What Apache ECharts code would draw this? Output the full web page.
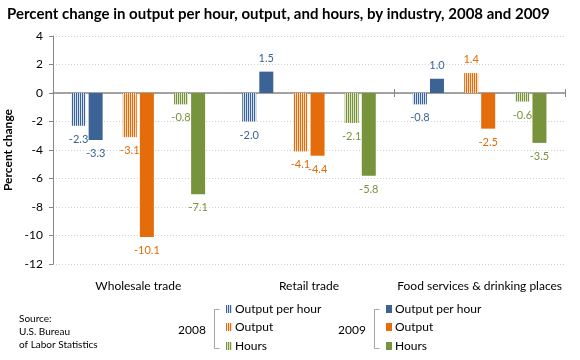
<!DOCTYPE html>
<html><head><meta charset="utf-8">
<script src="https://cdn.jsdelivr.net/npm/echarts@6/dist/echarts.min.js"></script>
<style>html,body{margin:0;padding:0;background:#fff}#c{width:580px;height:360px}</style>
</head><body><div id="c"></div>
<script>
const categories = ['Wholesale trade', 'Retail trade', 'Food services & drinking places'];
const oph2008 = [-2.3, -2.0, -0.8];
const oph2009 = [-3.3, 1.5, 1.0];
const out2008 = [-3.1, -4.1, 1.4];
const out2009 = [-10.1, -4.4, -2.5];
const hrs2008 = [-0.8, -2.1, -0.6];
const hrs2009 = [-7.1, -5.8, -3.5];
const yMin = -12, yMax = 4, yStep = 2;
const measures = ['Output per hour', 'Output', 'Hours'];

const FONT = 'Lato';
const blue = '#3b6396', orange = '#e46c0a', green = '#77933c';
const blueL = '#d3e0f0', orangeL = '#fcdcc2', greenL = '#dde7c8';

function hatch(color, light) {
  const c = document.createElement('canvas');
  c.width = 2; c.height = 2;
  const g = c.getContext('2d');
  g.fillStyle = light; g.fillRect(0, 0, 2, 2);
  g.fillStyle = color; g.fillRect(0, 0, 1, 2);
  return { image: c, repeat: 'repeat' };
}

function barSeries(name, data, fill, labelColor) {
  return {
    name: name, type: 'bar', data: data,
    barWidth: 14, barGap: '22%',
    itemStyle: { color: fill },
    label: {
      show: true, position: 'outside', distance: 8,
      color: labelColor, fontFamily: FONT, fontSize: 11,
      formatter: p => p.value.toFixed(1)
    },
    emphasis: { disabled: true }
  };
}
function gapSeries() {
  return { type: 'bar', data: categories.map(() => '-'), barWidth: 14, barGap: '22%', silent: true };
}

const series = [
  barSeries('Output per hour 2008', oph2008, hatch(blue, blueL), blue),
  barSeries('Output per hour 2009', oph2009, blue, blue),
  gapSeries(),
  barSeries('Output 2008', out2008, hatch(orange, orangeL), orange),
  barSeries('Output 2009', out2009, orange, orange),
  gapSeries(),
  barSeries('Hours 2008', hrs2008, hatch(green, greenL), green),
  barSeries('Hours 2009', hrs2009, green, green)
];

const legends = [];
const rowsY = [303, 321, 340];
['2008', '2009'].forEach((yr, k) => {
  measures.forEach((m, i) => {
    legends.push({
      data: [m + ' ' + yr], left: k === 0 ? 226 : 386, top: rowsY[i],
      orient: 'vertical', icon: 'rect', itemWidth: 6, itemHeight: 8, padding: 0,
      selectedMode: false,
      formatter: n => n.replace(/ \d{4}$/, ''),
      textStyle: { fontFamily: FONT, fontSize: 12, color: '#000', padding: [0, 0, 0, -2] }
    });
  });
});

function bracket(x) {
  return { type: 'polyline', shape: { points: [[x + 5, 309.5], [x, 309.5], [x, 348.5], [x + 5, 348.5]] },
    style: { stroke: '#a6a6a6', lineWidth: 1, fill: null }, silent: true };
}

const chart = echarts.init(document.getElementById('c'), null, { renderer: 'canvas' });
chart.setOption({
  animation: false,
  title: {
    text: 'Percent change in output per hour, output, and hours, by industry, 2008 and 2009',
    left: 7, top: 7, padding: 0,
    textStyle: { fontFamily: FONT, fontWeight: 'bold', fontSize: 15, color: '#000' }
  },
  grid: { left: 53, right: 15, top: 36, bottom: 96, containLabel: false, outerBoundsMode: 'none' },
  legend: legends,
  xAxis: [{
    type: 'category', data: categories, position: 'bottom',
    axisLine: { show: false, onZero: false },
    axisTick: { show: false },
    axisLabel: { interval: 0, margin: 16, fontFamily: FONT, fontSize: 12, color: '#000' },
    splitLine: { show: false }
  }, {
    type: 'category', data: categories, position: 'top',
    axisLine: { show: true, onZero: true, onZeroAxisIndex: 0, lineStyle: { color: '#868686', width: 1.5 } },
    axisTick: { show: true, length: 4, lineStyle: { color: '#868686' } },
    axisLabel: { show: false },
    splitLine: { show: false }
  }, {
    type: 'category', data: categories, position: 'bottom',
    axisLine: { show: false, onZero: true, onZeroAxisIndex: 0 },
    axisTick: { show: true, length: 4, lineStyle: { color: '#868686' } },
    axisLabel: { show: false },
    splitLine: { show: false }
  }],
  yAxis: {
    type: 'value', min: yMin, max: yMax, interval: yStep,
    name: 'Percent change', nameLocation: 'middle', nameGap: 34,
    nameTextStyle: { fontFamily: FONT, fontWeight: 'bold', fontSize: 12, color: '#000' },
    axisLine: { show: true, lineStyle: { color: '#868686' } },
    axisTick: { show: true, length: 4, lineStyle: { color: '#868686' } },
    axisLabel: { margin: 10, fontFamily: FONT, fontSize: 12, color: '#000' },
    splitLine: { show: true, lineStyle: { color: '#cfcfcf', type: [1, 2] } }
  },
  series: series,
  graphic: [
    bracket(214.5), bracket(374.5),
    { type: 'text', left: 178, top: 324, style: { text: '2008', font: '12px ' + FONT, fill: '#000' } },
    { type: 'text', left: 338, top: 324, style: { text: '2009', font: '12px ' + FONT, fill: '#000' } },
    { type: 'text', left: 19, top: 312, style: { text: 'Source:\nU.S. Bureau\nof Labor Statistics', font: '10px ' + FONT, fill: '#000', lineHeight: 13 } }
  ]
});
</script></body></html>
